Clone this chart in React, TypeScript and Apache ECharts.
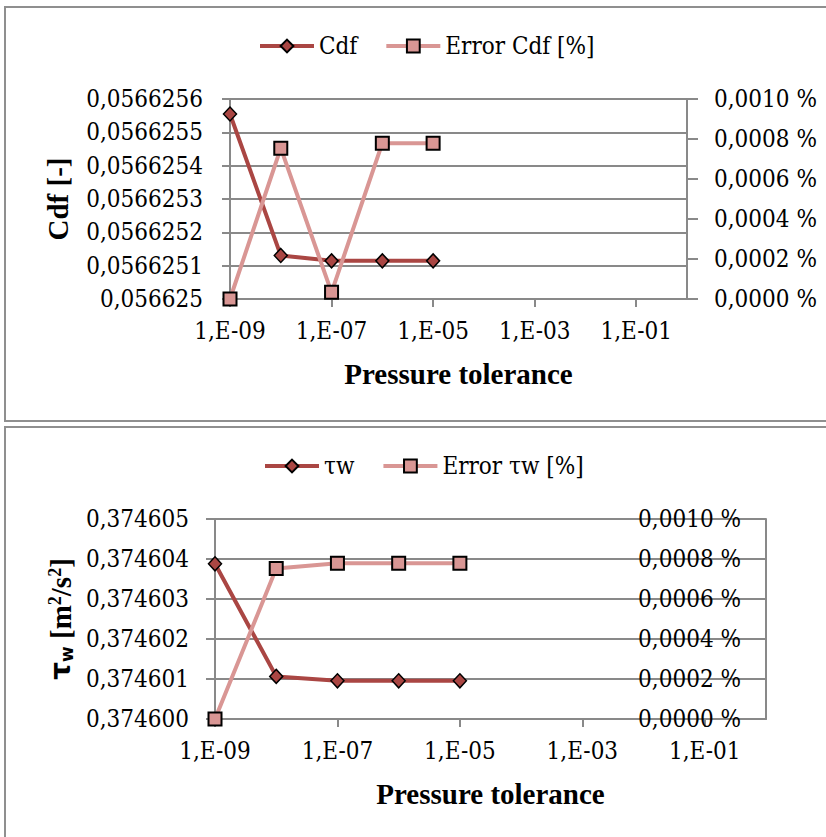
import React, { useEffect, useRef } from "react";
import * as echarts from "echarts";

// Pressure tolerance (x values)
const tolerance = [1e-9, 1e-8, 1e-7, 1e-6, 1e-5];
// Top chart
const cdf = [0.056625555, 0.0566251306, 0.0566251145, 0.0566251145, 0.0566251145];
const cdfError = [0, 0.000754, 0.0000334, 0.000779, 0.000779];
// Bottom chart
const tauw = [0.37460388, 0.374601065, 0.374600955, 0.374600955, 0.374600955];
const tauwError = [0, 0.000752, 0.000779, 0.000779, 0.000779];
// X tick values (labels)
const xTicks = [1e-9, 1e-7, 1e-5, 1e-3, 1e-1];

const FONT = "'DejaVu Serif Condensed', 'Liberation Serif'";
const NAMEFONT = "Liberation Serif";
const GRID = "#898989";
const DARK = "#AA4643";
const LIGHT = "#D99694";

const fmtX = (v: number) => {
  const e = Math.round(-Math.log10(v));
  return "1,E-" + (e < 10 ? "0" + e : String(e));
};
const fmtCdf = (v: number) => {
  let s = v.toFixed(7);
  s = s.replace(/0+$/, "");
  return s.replace(".", ",");
};
const fmtTau = (v: number) => v.toFixed(6).replace(".", ",");
const fmtPct = (v: number) => v.toFixed(4).replace(".", ",") + " %";

const labelStyle = { color: "#000", fontFamily: FONT, fontSize: 24 };
const nameStyle = { color: "#000", fontFamily: NAMEFONT, fontSize: 29, fontWeight: "bold" as const };
const lineSt = { color: GRID, width: 2 };

function xAxis(gridIndex: number) {
  return {
    type: "log",
    gridIndex,
    logBase: 10,
    min: 1e-9,
    max: 1,
    axisLine: { show: true, onZero: false, lineStyle: lineSt },
    axisTick: { show: true, length: 8, customValues: xTicks, lineStyle: lineSt },
    axisLabel: { ...labelStyle, margin: 20, customValues: xTicks, formatter: fmtX },
    splitLine: { show: false },
    minorTick: { show: false },
    name: "Pressure tolerance",
    nameLocation: "middle",
    nameGap: 60,
    nameMoveOverlap: false,
    nameTextStyle: nameStyle,
  };
}

export default function App() {
  const ref = useRef<HTMLDivElement>(null);
  useEffect(() => {
    if (!ref.current) return;
    const chart = echarts.init(ref.current, null, { renderer: "svg" });
    const darkSeries = (name: string, x: number, y: number, vals: number[]) => ({
      type: "line",
      name,
      xAxisIndex: x,
      yAxisIndex: y,
      data: tolerance.map((t, i) => [t, vals[i]]),
      symbol: "diamond",
      symbolSize: [13, 14],
      itemStyle: { color: DARK, borderColor: "#000", borderWidth: 1.5 },
      lineStyle: { color: DARK, width: 4 },
      z: 2,
    });
    const lightSeries = (name: string, x: number, y: number, vals: number[]) => ({
      type: "line",
      name,
      xAxisIndex: x,
      yAxisIndex: y,
      data: tolerance.map((t, i) => [t, vals[i]]),
      symbol: "rect",
      symbolSize: 13,
      itemStyle: { color: LIGHT, borderColor: "#000", borderWidth: 2 },
      lineStyle: { color: LIGHT, width: 4 },
      z: 3,
    });
    const legendBase = {
      itemWidth: 54,
      itemHeight: 16,
      itemGap: 27,
      textStyle: { ...labelStyle },
      lineStyle: { width: 4 },
    };
    chart.setOption({
      animation: false,
      backgroundColor: "#fff",
      graphic: [
        {
          type: "rect",
          silent: true,
          z: -10,
          shape: { x: 5, y: 7, width: 900, height: 414 },
          style: { fill: "none", stroke: "#8f8f8f", lineWidth: 2 },
        },
        {
          type: "rect",
          silent: true,
          z: -10,
          shape: { x: 5, y: 427, width: 900, height: 500 },
          style: { fill: "none", stroke: "#8f8f8f", lineWidth: 2 },
        },
        {
          type: "text",
          silent: true,
          x: 58,
          y: 199,
          rotation: Math.PI / 2,
          style: {
            text: "Cdf [-]",
            fill: "#000",
            fontFamily: NAMEFONT,
            fontSize: 29,
            fontWeight: "bold",
            align: "center",
            verticalAlign: "middle",
          },
        },
      ],
      legend: [
        { ...legendBase, data: ["Cdf", "Error Cdf [%]"], left: 253, top: 29 },
        { ...legendBase, data: ["τw", "Error τw [%]"], left: 258, top: 449 },
      ],
      grid: [
        { left: 230, top: 99, width: 457, height: 200 },
        { left: 215, top: 519, width: 551, height: 200 },
      ],
      xAxis: [xAxis(0), xAxis(1)],
      yAxis: [
        {
          type: "value",
          gridIndex: 0,
          position: "left",
          min: 0.056625,
          max: 0.0566256,
          interval: 0.0000001,
          axisLine: { show: true, onZero: false, lineStyle: lineSt },
          axisTick: { show: true, length: 8, lineStyle: lineSt },
          splitLine: { show: true, lineStyle: lineSt },
          axisLabel: { ...labelStyle, margin: 27, formatter: fmtCdf },
        },
        {
          type: "value",
          gridIndex: 0,
          position: "right",
          min: 0,
          max: 0.001,
          interval: 0.0002,
          axisLine: { show: true, onZero: false, lineStyle: lineSt },
          axisTick: { show: true, length: 11, lineStyle: lineSt },
          splitLine: { show: false },
          axisLabel: { ...labelStyle, margin: 27, formatter: fmtPct },
        },
        {
          type: "value",
          gridIndex: 1,
          position: "left",
          min: 0.3746,
          max: 0.374605,
          interval: 0.000001,
          axisLine: { show: true, onZero: false, lineStyle: lineSt },
          axisTick: { show: true, length: 9, lineStyle: lineSt },
          splitLine: { show: true, lineStyle: lineSt },
          axisLabel: { ...labelStyle, margin: 26, formatter: fmtTau },
          name: "{t|τ}{s|w} [m{p|2}/s{p|2}]",
          nameLocation: "middle",
          nameGap: 140,
          nameMoveOverlap: false,
          nameTextStyle: {
            ...nameStyle,
            rich: {
              t: { ...nameStyle, fontFamily: "DejaVu Sans", fontSize: 28 },
              s: { ...nameStyle, fontFamily: "DejaVu Sans", fontSize: 17, verticalAlign: "bottom", padding: [10, 0, 0, 0] },
              p: { ...nameStyle, fontSize: 18, verticalAlign: "top", padding: [0, 0, 8, 0] },
            },
          },
        },
        {
          type: "value",
          gridIndex: 1,
          position: "right",
          min: 0,
          max: 0.001,
          interval: 0.0002,
          axisLine: { show: true, onZero: false, lineStyle: lineSt },
          axisTick: { show: false },
          splitLine: { show: false },
          axisLabel: { ...labelStyle, margin: 25, inside: true, formatter: fmtPct },
        },
      ],
      series: [
        darkSeries("Cdf", 0, 0, cdf),
        lightSeries("Error Cdf [%]", 0, 1, cdfError),
        darkSeries("τw", 1, 2, tauw),
        lightSeries("Error τw [%]", 1, 3, tauwError),
      ],
    });
    return () => chart.dispose();
  }, []);
  return (
    <div
      ref={ref}
      style={{ position: "absolute", left: 0, top: 0, width: 826, height: 837 }}
    />
  );
}
